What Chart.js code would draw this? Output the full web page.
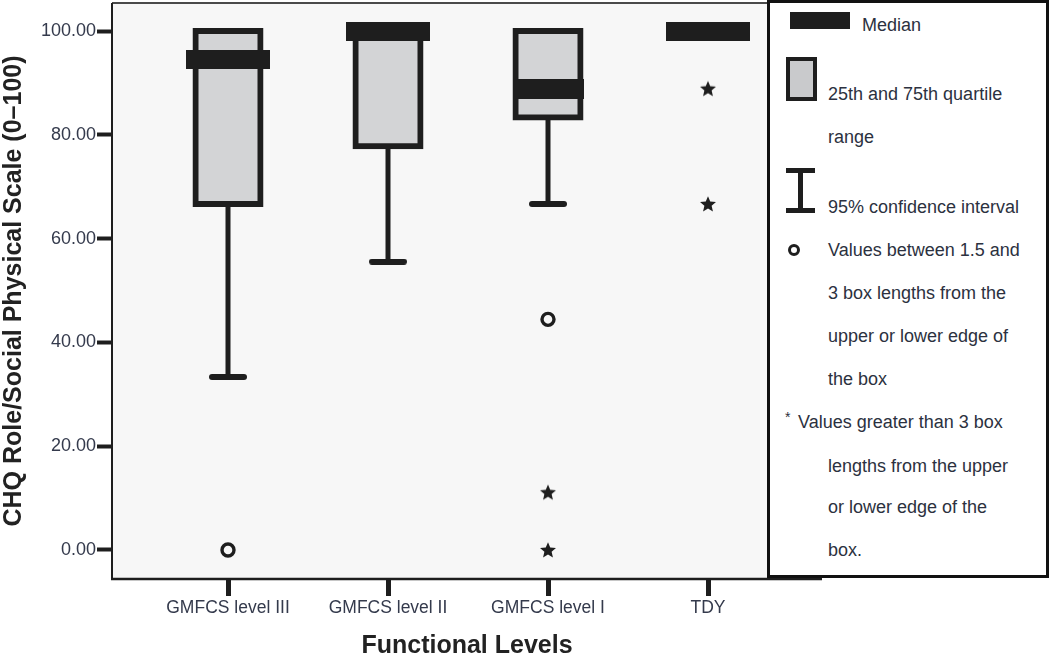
<!DOCTYPE html>
<html>
<head>
<meta charset="utf-8">
<script src="https://cdn.jsdelivr.net/npm/chart.js@4.4.0/dist/chart.umd.min.js"></script>
<style>
html,body{margin:0;padding:0;background:#fff;}
#wrap{position:relative;width:1050px;height:657px;overflow:hidden;}
#chart{position:absolute;left:0;top:0;}
#legend{position:absolute;left:767px;top:0;width:282px;height:578px;box-sizing:border-box;border:3px solid #111;background:#fff;font-family:"Liberation Sans",Arial,sans-serif;font-size:18px;color:#2c3140;}
#legend .t{position:absolute;white-space:nowrap;line-height:20px;}
#legend .s{position:absolute;box-sizing:border-box;}
</style>
</head>
<body>
<div id="wrap">
  <canvas id="chart" width="1050" height="657"></canvas>
  <div id="legend">
    <div class="s" style="left:20px;top:9px;width:60px;height:17px;background:#1e1e1e;"></div>
    <div class="t" style="left:92px;top:12px;">Median</div>
    <div class="s" style="left:16px;top:54px;width:31px;height:44px;border:4px solid #1e1e1e;background:#c9cacc;"></div>
    <div class="t" style="left:58px;top:81px;">25th and 75th quartile</div>
    <div class="t" style="left:58px;top:124px;">range</div>
    <div class="s" style="left:16px;top:165px;width:29px;height:5px;background:#1e1e1e;"></div>
    <div class="s" style="left:28px;top:165px;width:5px;height:45px;background:#1e1e1e;"></div>
    <div class="s" style="left:16px;top:205px;width:29px;height:5px;background:#1e1e1e;"></div>
    <div class="t" style="left:58px;top:194px;">95% confidence interval</div>
    <div class="s" style="left:18px;top:241px;width:12px;height:12px;border:3px solid #1e1e1e;border-radius:50%;background:#fff;"></div>
    <div class="t" style="left:58px;top:237px;">Values between 1.5 and</div>
    <div class="t" style="left:58px;top:280px;">3 box lengths from the</div>
    <div class="t" style="left:58px;top:323px;">upper or lower edge of</div>
    <div class="t" style="left:58px;top:366px;">the box</div>
    <div class="t" style="left:15px;top:404px;font-size:14px;">*</div>
    <div class="t" style="left:28px;top:409px;">Values greater than 3 box</div>
    <div class="t" style="left:58px;top:453px;">lengths from the upper</div>
    <div class="t" style="left:58px;top:494px;">or lower edge of the</div>
    <div class="t" style="left:58px;top:537px;">box.</div>
  </div>
</div>
<script>
// ---- data ----
const categories = ['GMFCS level III', 'GMFCS level II', 'GMFCS level I', 'TDY'];
const lowerQuartile = [66.67, 77.78, 83.33, 100];
const upperQuartile = [100, 100, 100, 100];
const medians = [94.44, 100, 88.89, 100];
const whiskerLow = [33.33, 55.56, 66.67, null];
const outlierValues = [[0], [], [44.44], []];
const extremeValues = [[], [], [11.11, 0], [88.89, 66.67]];
const yTickValues = [0, 20, 40, 60, 80, 100];

// ---- styles ----
const INK = '#1e1e1e';
function makeCanvas(w, h, draw) {
  const c = document.createElement('canvas');
  c.width = w; c.height = h;
  draw(c.getContext('2d'), w, h);
  return c;
}
const wideMedian = makeCanvas(84, 19, (g, w, h) => { g.fillStyle = INK; g.fillRect(0, 0, w, h); });
const boxMedian = makeCanvas(71, 20, (g, w, h) => { g.fillStyle = INK; g.fillRect(0, 0, w, h); });
const medianStyles = [wideMedian, wideMedian, boxMedian, wideMedian];
const capStyle = makeCanvas(38, 6, (g, w, h) => {
  g.fillStyle = INK; g.beginPath();
  g.moveTo(3, 0); g.lineTo(w - 3, 0); g.arc(w - 3, 3, 3, -Math.PI / 2, Math.PI / 2);
  g.lineTo(3, h); g.arc(3, 3, 3, Math.PI / 2, Math.PI * 1.5); g.fill();
});
const starStyle = makeCanvas(18, 18, (g, w, h) => {
  g.fillStyle = INK; g.beginPath();
  for (let k = 0; k < 10; k++) {
    const r = k % 2 === 0 ? 8.4 : 3.8;
    const a = -Math.PI / 2 + k * Math.PI / 5;
    const px = 9 + r * Math.cos(a), py = 9.6 + r * Math.sin(a);
    if (k === 0) g.moveTo(px, py); else g.lineTo(px, py);
  }
  g.closePath(); g.fill();
});

const framePlugin = {
  id: 'frame',
  beforeDraw(chart) {
    const { ctx, chartArea: a } = chart;
    ctx.save();
    ctx.fillStyle = '#f7f7f7';
    ctx.fillRect(a.left, a.top, a.right - a.left, a.bottom - a.top);
    ctx.restore();
  },
  afterDatasetsDraw(chart) {
    const { ctx, chartArea: a } = chart;
    ctx.save();
    ctx.strokeStyle = '#4a4a4a'; ctx.lineWidth = 2;
    ctx.beginPath(); ctx.moveTo(a.left, a.top); ctx.lineTo(a.right, a.top); ctx.stroke();
    ctx.strokeStyle = INK; ctx.lineWidth = 2;
    ctx.beginPath(); ctx.moveTo(a.left, a.top); ctx.lineTo(a.left, a.bottom); ctx.stroke();
    ctx.lineWidth = 2.5;
    ctx.beginPath(); ctx.moveTo(a.left - 1, a.bottom); ctx.lineTo(a.right, a.bottom); ctx.stroke();
    ctx.restore();
  }
};

const FONT = '"Liberation Sans", Arial, sans-serif';
const flat = (groups) => groups.flatMap((vals, i) => vals.map(v => ({ x: i, y: v })));

new Chart(document.getElementById('chart'), {
  type: 'bar',
  data: {
    datasets: [
      {
        type: 'scatter', order: 0, label: 'Median',
        data: medians.map((m, i) => ({ x: i, y: m })),
        pointStyle: (c) => medianStyles[c.dataIndex], radius: 5, hoverRadius: 5
      },
      {
        type: 'scatter', order: 0, label: 'Extreme',
        data: flat(extremeValues), pointStyle: starStyle, radius: 5, hoverRadius: 5
      },
      {
        type: 'scatter', order: 0, label: 'Outlier',
        data: flat(outlierValues), pointStyle: 'circle', radius: 6, hoverRadius: 6,
        borderWidth: 3.4, borderColor: INK, backgroundColor: '#f7f7f7', hoverBorderWidth: 3.4
      },
      {
        type: 'scatter', order: 1, label: 'Cap',
        data: whiskerLow.map((w, i) => (w === null ? null : { x: i, y: w })).filter(Boolean),
        pointStyle: capStyle, radius: 5, hoverRadius: 5
      },
      {
        type: 'bar', order: 2, label: 'IQR',
        data: lowerQuartile.map((q, i) => ({ x: i, y: [q, upperQuartile[i]] })),
        backgroundColor: '#d3d4d6', borderColor: INK, borderWidth: 6, borderSkipped: false,
        inflateAmount: 3, barThickness: 65, maxBarThickness: 65, grouped: false
      },
      {
        type: 'bar', order: 3, label: 'Whisker',
        data: whiskerLow.map((w, i) => (w === null ? null : { x: i, y: [w, lowerQuartile[i]] })).filter(Boolean),
        backgroundColor: INK, borderWidth: 0, inflateAmount: 0,
        barThickness: 5, maxBarThickness: 5, grouped: false
      }
    ]
  },
  options: {
    responsive: false,
    animation: false,
    events: [],
    layout: { autoPadding: false, padding: { left: 0, top: 3, right: 228, bottom: 0 } },
    plugins: { legend: { display: false }, tooltip: { enabled: false } },
    scales: {
      x: {
        type: 'linear', offset: false, bounds: 'data',
        min: -0.725, max: 3.7125,
        afterBuildTicks: (s) => { s.ticks = categories.map((_, i) => ({ value: i })); },
        afterFit: (s) => { s.height = 78; s.paddingLeft = 0; s.paddingRight = 0; },
        grid: { drawOnChartArea: false, offset: false, tickLength: 17, tickWidth: 5, tickColor: INK },
        border: { display: false },
        ticks: {
          callback: (v) => categories[v], autoSkip: false, maxRotation: 0, padding: 2,
          color: '#343a4c', font: { family: FONT, size: 17.5 }
        },
        title: {
          display: true, text: 'Functional Levels', color: '#222',
          font: { family: FONT, size: 25, weight: 'bold', lineHeight: 1 },
          padding: { top: 0, bottom: -2 }
        }
      },
      y: {
        type: 'linear', bounds: 'data', min: -5.6, max: 105.4,
        afterBuildTicks: (s) => { s.ticks = yTickValues.map(v => ({ value: v })); },
        afterFit: (s) => { s.width = 112; s.paddingTop = 0; s.paddingBottom = 0; },
        grid: { drawOnChartArea: false, tickLength: 15, tickWidth: 4, tickColor: INK },
        border: { display: false },
        ticks: {
          callback: (v) => Number(v).toFixed(2), padding: 1,
          color: '#343a4c', font: { family: FONT, size: 18 }
        },
        title: {
          display: true, text: 'CHQ Role/Social Physical Scale (0\u2013100)', color: '#222',
          font: { family: FONT, size: 25, weight: 'bold', lineHeight: 1 },
          padding: { top: 2, bottom: 0 }
        }
      }
    }
  },
  plugins: [framePlugin]
});
</script>
</body>
</html>
